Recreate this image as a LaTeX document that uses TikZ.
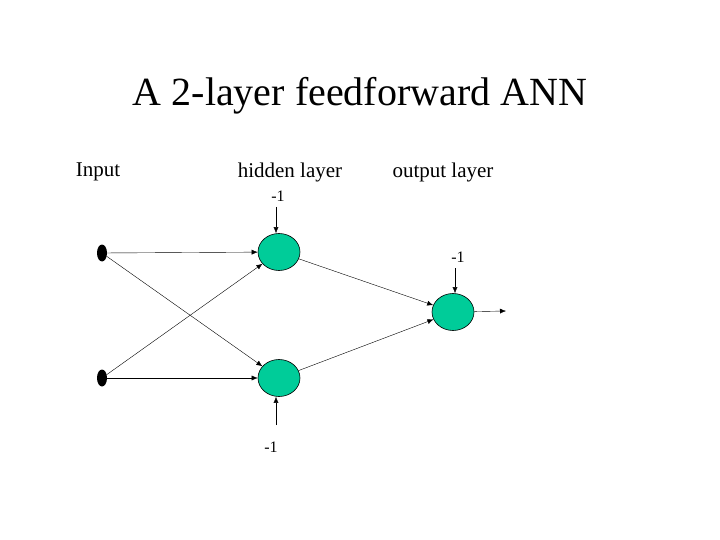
\documentclass[tikz,border=0pt]{standalone}
\usepackage{fontspec}
\setmainfont{Liberation Serif}
\usetikzlibrary{arrows.meta}
\usetikzlibrary{shapes.geometric}
\definecolor{neurongreen}{HTML}{00CC99}
\tikzset{>={Latex[length=6pt,width=5pt]}, line width=1.2pt}
\tikzset{
  neuron/.style={ellipse,draw,line width=0.6pt,fill=neurongreen,minimum width=42pt,minimum height=37pt,inner sep=0pt},
  inpt/.style={ellipse,fill=black,minimum width=10pt,minimum height=17pt,inner sep=0pt},
  lbl/.style={font=\fontsize{21}{21}\selectfont,inner sep=0pt},
  bias/.style={font=\fontsize{16}{16}\selectfont,inner sep=0pt}
}

\begin{document}
\begin{tikzpicture}[x=1pt,y=-1pt]
  \useasboundingbox (0,0) rectangle (720,540);

  % title and layer labels
  \node[font=\fontsize{40}{40}\selectfont,inner sep=0pt] (title) at (360,96) {A 2-layer feedforward ANN};
  \node[lbl] (linput) at (98,172) {Input};
  \node[lbl] (lhidden) at (290,172) {hidden layer};
  \node[lbl] (loutput) at (443,172) {output layer};

  % nodes
  \node[inpt] (x1) at (102,253) {};
  \node[inpt] (x2) at (102,378) {};
  \node[neuron] (h1) at (279,252) {};
  \node[neuron] (h2) at (279,378) {};
  \node[neuron] (o) at (453,312) {};

  % bias inputs
  \node[bias] (b1) at (278,196) {-1};
  \node[bias] (b2) at (271,447) {-1};
  \node[bias] (b3) at (458,257) {-1};
  \coordinate (b1s) at (276,207);
  \coordinate (b2s) at (276,425);
  \coordinate (b3s) at (455,268);
  \coordinate (out) at (506,311);

  % connections
  \draw[->] (x1) -- (h1);
  \draw[->] (x1) -- (h2);
  \draw[->] (x2) -- (h2);
  \draw[->] (x2) -- (h1);
  \draw[->] (h1) -- (o);
  \draw[->] (h2) -- (o);
  \draw[->] (b1s) -- (b1s |- h1.north);
  \draw[->] (b2s) -- (b2s |- h2.south);
  \draw[->] (b3s) -- (b3s |- o.north);
  \draw[->] (o) -- (out);
\end{tikzpicture}
\end{document}
